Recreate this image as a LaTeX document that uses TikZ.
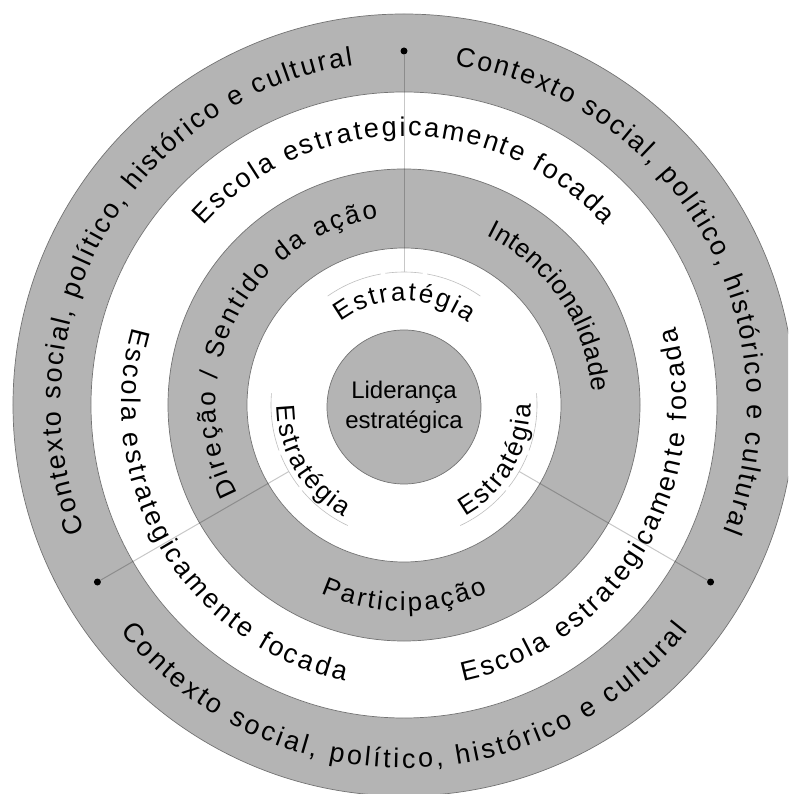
\documentclass[tikz,border=0pt]{standalone}
\usepackage{fontspec}
\setmainfont{Liberation Sans}
\usetikzlibrary{decorations.text}

\definecolor{band}{RGB}{180,180,180}
\definecolor{edge}{RGB}{115,115,115}

% type sizes for the rings
\newcommand\fouter{\fontsize{27pt}{27pt}\selectfont}
\newcommand\fschool{\fontsize{27pt}{27pt}\selectfont}
\newcommand\fmid{\fontsize{26pt}{26pt}\selectfont}
\newcommand\finner{\fontsize{26pt}{26pt}\selectfont}

\begin{document}
\begin{tikzpicture}[x=1pt,y=1pt,
  ring/.style={draw=edge, line width=0.7pt},
  spoke/.style={draw=black, draw opacity=0.22, line width=1pt},
  guide/.style={draw=black!25, line width=0.6pt},
  dotmark/.style={circle, fill=black, inner sep=0pt, minimum size=7pt},
  textarc/.style n args={3}{decorate, decoration={text along path,
      text={|#1|#2}, text align={fit to path}, raise=#3}}
]
\path[use as bounding box] (-404,-389) rectangle (384,405);
\clip (-404,-389) rectangle (384,405);

% concentric bands
\fill[band, ring] (0,0) circle[radius=391];
\fill[white, ring] (0,0) circle[radius=313];
\fill[band, ring] (0,0) circle[radius=236];
\fill[white, ring] (0,0) circle[radius=157];
\fill[band, ring] (0,-2) circle[radius=77];

% spokes dividing the three sectors
\foreach \a/\n in {90/top,210/left,330/right}{
  \node[dotmark] (dot\n) at (\a:354) {};
  \coordinate (foot\n) at (\a:133);
  \draw[spoke] (dot\n) -- (foot\n);
}

% bracket arcs over the inner labels
\foreach \c in {90,210,330}{
  \draw[guide] ({\c+35}:133) arc[start angle={\c+35}, end angle={\c+10}, radius=133];
  \draw[guide] ({\c+8}:133) arc[start angle={\c+8}, end angle={\c-8}, radius=133];
  \draw[guide] ({\c-10}:133) arc[start angle={\c-10}, end angle={\c-35}, radius=133];
}

% outer band
\path[textarc={\fouter}{Contexto social, político, histórico e cultural}{-8pt}]
  (201.5:351.5) arc[start angle=201.5, end angle=98.5, radius=351.5];
\path[textarc={\fouter}{Contexto social, político, histórico e cultural}{-8pt}]
  (81.5:351.5) arc[start angle=81.5, end angle=-21.5, radius=351.5];
\path[textarc={\fouter}{Contexto social, político, histórico e cultural}{-10pt}]
  (218.5:353) arc[start angle=218.5, end angle=321.5, radius=353];

% school ring
\path[textarc={\fschool}{Escola estrategicamente focada}{-8pt}]
  (138:277) arc[start angle=138, end angle=42, radius=277];
\path[textarc={\fschool}{Escola estrategicamente focada}{-8pt}]
  (164:274.5) arc[start angle=164, end angle=258, radius=274.5];
\path[textarc={\fschool}{Escola estrategicamente focada}{-8pt}]
  (282:274.5) arc[start angle=282, end angle=376, radius=274.5];

% middle band
\path[textarc={\fmid}{Direção / Sentido da ação}{-7.8pt}]
  (208:196) arc[start angle=208, end angle=98, radius=196];
\path[textarc={\fmid}{Intencionalidade}{-7.8pt}]
  (64:196) arc[start angle=64, end angle=4, radius=196];
\path[textarc={\fmid}{Participação}{-9pt}]
  (246:197) arc[start angle=246, end angle=294, radius=197];

% inner ring
\path[textarc={\finner}{Estratégia}{-7.8pt}]
  (127:112) arc[start angle=127, end angle=52, radius=112];
\path[textarc={\finner}{Estratégia}{-7.8pt}]
  (180:119) arc[start angle=180, end angle=242, radius=119];
\path[textarc={\finner}{Estratégia}{-7.8pt}]
  (298.5:119) arc[start angle=298.5, end angle=360.5, radius=119];

% core
\node[align=center, font=\fontsize{24pt}{30pt}\selectfont] (lead) at (0,-2)
  {Liderança\\estratégica};
\end{tikzpicture}
\end{document}
